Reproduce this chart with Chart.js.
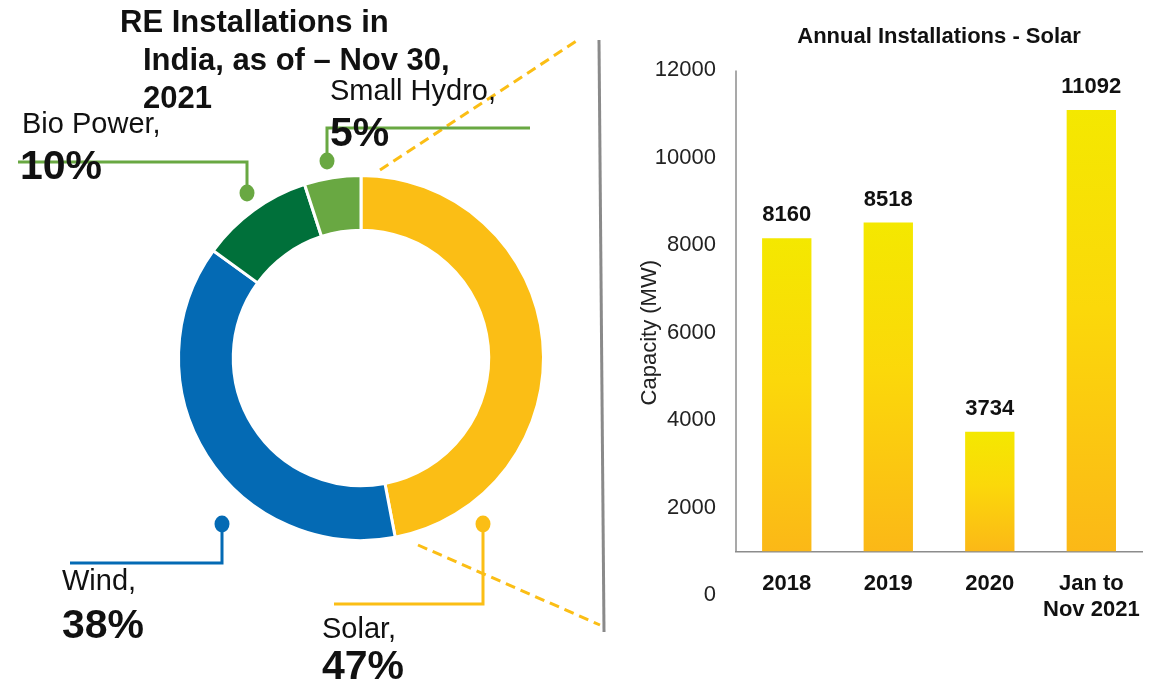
<!DOCTYPE html>
<html>
<head>
<meta charset="utf-8">
<title>RE Installations in India</title>
<script src="https://cdn.jsdelivr.net/npm/chart.js@4.4.0/dist/chart.umd.min.js"></script>
<style>
  html, body { margin: 0; padding: 0; background: #fff; }
  body { width: 1152px; height: 689px; position: relative; overflow: hidden; }
  #mixWrap { position: absolute; left: 0; top: 0; width: 612px; height: 689px; }
  #barWrap { position: absolute; left: 600px; top: 0; width: 561px; height: 689px; }
</style>
</head>
<body>
<div id="mixWrap"><canvas id="mixChart"></canvas></div>
<div id="barWrap"><canvas id="barChart"></canvas></div>
<script>
const FONT = "'Liberation Sans', Arial, sans-serif";

// share of RE installations
const sources = ["Solar", "Wind", "Bio Power", "Small Hydro"];
const shares = [47, 38, 10, 5];
const shareColors = ["#fbbe15", "#046ab4", "#00703a", "#69a842"];

// annual solar installations (MW)
const years = ["2018", "2019", "2020", ["Jan to", "Nov 2021"]];
const solarMW = [8160, 8518, 3734, 11092];
const yTicks = [0, 2000, 4000, 6000, 8000, 10000, 12000];

// callout placement on the left canvas
const callouts = [
  { i: 0, color: "#fbbe15", dot: [483, 524], path: [[483, 604], [334, 604]], text: [322, 630], pct: [322, 668] },
  { i: 1, color: "#046ab4", dot: [222, 524], path: [[222, 563], [70, 563]], text: [62, 582], pct: [62, 627] },
  { i: 2, color: "#69a842", dot: [247, 193], path: [[247, 162], [18, 162]], text: [22, 125], pct: [20, 168] },
  { i: 3, color: "#69a842", dot: [327, 161], path: [[327, 128], [530, 128]], text: [330, 92], pct: [330, 135] }
];

//---callouts + title on the doughnut side---
const calloutPlugin = {
  id: 'callouts',
  afterDraw(chart) {
    const ctx = chart.ctx;
    ctx.save();

    // divider
    ctx.strokeStyle = '#8a8a8a';
    ctx.lineWidth = 3;
    ctx.beginPath();
    ctx.moveTo(599, 40);
    ctx.lineTo(604, 632);
    ctx.stroke();

    // zoom lines towards the solar bars
    ctx.strokeStyle = '#fbbe15';
    ctx.lineWidth = 3;
    ctx.setLineDash([10, 6]);
    ctx.beginPath();
    ctx.moveTo(380, 170); ctx.lineTo(578, 40);
    ctx.moveTo(418, 545); ctx.lineTo(600, 625);
    ctx.stroke();
    ctx.setLineDash([]);

    callouts.forEach(c => {
      ctx.strokeStyle = c.color;
      ctx.fillStyle = c.color;
      ctx.lineWidth = 3;
      ctx.beginPath();
      ctx.moveTo(c.dot[0], c.dot[1]);
      c.path.forEach(p => ctx.lineTo(p[0], p[1]));
      ctx.stroke();
      ctx.beginPath();
      ctx.ellipse(c.dot[0], c.dot[1], 7.5, 8.5, 0, 0, Math.PI * 2);
      ctx.fill();
    });

    ctx.fillStyle = '#111';
    ctx.textAlign = 'left';
    ctx.textBaseline = 'middle';
    callouts.forEach(c => {
      ctx.font = '29px ' + FONT;
      ctx.fillText(sources[c.i] + ',', c.text[0], c.text[1]);
      ctx.font = 'bold 41px ' + FONT;
      ctx.fillText(shares[c.i] + '%', c.pct[0], c.pct[1]);
    });

    ctx.font = 'bold 31px ' + FONT;
    ctx.fillText('RE Installations in', 120, 23);
    ctx.fillText('India, as of \u2013 Nov 30,', 143, 61);
    ctx.fillText('2021', 143, 99);
    ctx.restore();
  }
};

new Chart(document.getElementById('mixChart'), {
  type: 'doughnut',
  data: {
    labels: sources,
    datasets: [{
      data: shares,
      backgroundColor: shareColors,
      borderColor: '#ffffff',
      borderWidth: 3
    }]
  },
  options: {
    responsive: true,
    maintainAspectRatio: false,
    animation: false,
    cutout: '70%',
    layout: { padding: { left: 177, top: 174, right: 67, bottom: 147 } },
    plugins: { legend: { display: false }, tooltip: { enabled: false } }
  },
  plugins: [calloutPlugin]
});

//---bar chart---
function barFill(c) {
  const chart = c.chart;
  if (!chart.chartArea || c.type !== 'data' || !chart.scales.y) return '#fbc812';
  const y = chart.scales.y;
  const top = y.getPixelForValue(c.raw);
  const bottom = y.getPixelForValue(1000);
  const g = chart.ctx.createLinearGradient(0, top, 0, bottom);
  g.addColorStop(0, '#f4e800');
  g.addColorStop(0.45, '#fbd80a');
  g.addColorStop(1, '#fbb817');
  return g;
}

const axisLine = {
  id: 'axisLine',
  beforeDatasetsDraw(chart) {
    const ctx = chart.ctx;
    const y = chart.scales.y;
    ctx.save();
    ctx.strokeStyle = '#8c8c8c';
    ctx.lineWidth = 1.5;
    ctx.beginPath();
    ctx.moveTo(chart.chartArea.left, y.getPixelForValue(12000));
    ctx.lineTo(chart.chartArea.left, y.getPixelForValue(1000));
    ctx.stroke();
    ctx.restore();
  }
};

const barLabels = {
  id: 'barLabels',
  afterDatasetsDraw(chart) {
    const ctx = chart.ctx;
    const meta = chart.getDatasetMeta(0);
    ctx.save();
    ctx.font = 'bold 22px ' + FONT;
    ctx.fillStyle = '#111';
    ctx.textAlign = 'center';
    ctx.textBaseline = 'bottom';
    meta.data.forEach((bar, i) => ctx.fillText(String(solarMW[i]), bar.x, bar.y - 12));
    ctx.restore();
  }
};

new Chart(document.getElementById('barChart'), {
  type: 'bar',
  data: {
    labels: years,
    datasets: [{
      label: 'Capacity (MW)',
      data: solarMW,
      base: 1000,
      backgroundColor: barFill,
      barPercentage: 0.54,
      categoryPercentage: 0.9
    }]
  },
  options: {
    responsive: true,
    maintainAspectRatio: false,
    animation: false,
    layout: { padding: { left: 0, right: 0, top: 0, bottom: 94 } },
    plugins: {
      legend: { display: false },
      tooltip: { enabled: false },
      title: {
        display: true,
        text: 'Annual Installations - Solar',
        fullSize: false,
        color: '#111',
        font: { family: FONT, size: 22, weight: 'bold' },
        padding: { top: 24, bottom: 20 }
      }
    },
    scales: {
      x: {
        position: { y: 1000 },
        grid: { display: false, drawTicks: false },
        border: { color: '#8c8c8c', width: 1.5 },
        ticks: {
          padding: 19,
          autoSkip: false,
          maxRotation: 0,
          minRotation: 0,
          color: '#111',
          font: { family: FONT, size: 22, weight: 'bold' }
        }
      },
      y: {
        min: 0,
        max: 12000,
        afterBuildTicks: s => { s.ticks = yTicks.map(v => ({ value: v })); },
        afterFit: s => { s.width = 136; },
        grid: { display: false, drawTicks: false },
        border: { display: false },
        ticks: {
          padding: 20,
          color: '#222',
          font: { family: FONT, size: 22 },
          callback: v => String(v)
        },
        title: {
          display: true,
          text: 'Capacity (MW)',
          color: '#222',
          font: { family: FONT, size: 22 },
          padding: { top: 37, bottom: 0 }
        }
      }
    }
  },
  plugins: [axisLine, barLabels]
});
</script>
</body>
</html>
